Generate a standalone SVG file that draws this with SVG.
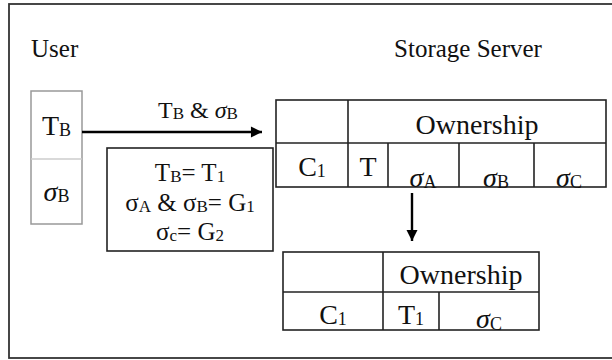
<svg xmlns="http://www.w3.org/2000/svg" width="612" height="360" viewBox="0 0 612 360">
  <style>
    text { font-family: "Liberation Serif", "Times New Roman", serif; fill: #111; }
    .title { font-size: 25px; }
    .cell { font-size: 28px; text-anchor: middle; }
    .info { font-size: 25px; text-anchor: middle; }
    .lbl { font-size: 24px; text-anchor: middle; }
    .sub { font-size: 18px; }
    .isub { font-size: 17px; }
    .it { font-style: italic; }
    .grid { fill: none; stroke: #222; stroke-width: 1.6; }
    .frame { fill: #fff; stroke: #333; stroke-width: 1.8; }
    .wire { stroke: #000; stroke-width: 2.4; fill: none; }
  </style>
  <defs>
    <marker id="head" viewBox="0 0 10 10" refX="10" refY="5" markerWidth="5.5" markerHeight="4.6" markerUnits="strokeWidth" orient="auto">
      <path d="M0,0 L10,5 L0,10 Z" fill="#000"/>
    </marker>
  </defs>

  <!-- outer frame -->
  <rect class="frame" x="9" y="4" width="620" height="354"/>

  <!-- headings -->
  <g id="user-title">
    <text class="title" x="31" y="57">User</text>
  </g>
  <g id="server-title">
    <text class="title" x="468" y="57" text-anchor="middle">Storage Server</text>
  </g>

  <!-- user token column -->
  <g id="user-box">
    <rect x="31" y="91" width="51" height="133" fill="#fff" stroke="#999" stroke-width="1.5"/>
    <line x1="31" y1="159" x2="82" y2="159" stroke="#ccc" stroke-width="1.5"/>
    <text class="cell" x="56.5" y="135">T<tspan class="sub" dy="1">B</tspan></text>
    <text class="cell" x="56.5" y="201"><tspan class="it">σ</tspan><tspan class="sub" dy="1">B</tspan></text>
  </g>

  <!-- grouping rules -->
  <g id="rules-box">
    <rect x="107" y="148" width="166" height="103" fill="#fff" stroke="#222" stroke-width="1.6"/>
    <text class="info" x="190" y="181">T<tspan class="isub" dy="1">B</tspan><tspan dy="-1">= T</tspan><tspan class="isub" dy="1">1</tspan></text>
    <text class="info" x="190" y="211">σ<tspan class="isub" dy="1">A</tspan><tspan dy="-1"> &amp; σ</tspan><tspan class="isub" dy="1">B</tspan><tspan dy="-1">= G</tspan><tspan class="isub" dy="1">1</tspan></text>
    <text class="info" x="190" y="240">σ<tspan class="isub" dy="1">c</tspan><tspan dy="-1">= G</tspan><tspan class="isub" dy="1">2</tspan></text>
  </g>

  <!-- ownership table before deduplication -->
  <g id="table-full">
    <rect class="grid" x="276" y="100" width="330" height="87"/>
    <line class="grid" x1="276" y1="143" x2="606" y2="143"/>
    <line class="grid" x1="348" y1="100" x2="348" y2="187"/>
    <line class="grid" x1="388" y1="143" x2="388" y2="187"/>
    <line class="grid" x1="459" y1="143" x2="459" y2="187"/>
    <line class="grid" x1="534" y1="143" x2="534" y2="187"/>
    <text class="cell" x="477" y="134">Ownership</text>
    <text class="cell" x="312" y="176">C<tspan class="sub" dy="1">1</tspan></text>
    <text class="cell" x="368" y="176">T</text>
    <text class="cell" x="423" y="187"><tspan class="it">σ</tspan><tspan class="sub" dy="1">A</tspan></text>
    <text class="cell" x="496" y="187"><tspan class="it">σ</tspan><tspan class="sub" dy="1">B</tspan></text>
    <text class="cell" x="569" y="187"><tspan class="it">σ</tspan><tspan class="sub" dy="1">C</tspan></text>
  </g>

  <!-- ownership table after deduplication -->
  <g id="table-reduced">
    <rect class="grid" x="283" y="252" width="256" height="78"/>
    <line class="grid" x1="283" y1="292" x2="539" y2="292"/>
    <line class="grid" x1="383" y1="252" x2="383" y2="330"/>
    <line class="grid" x1="439" y1="292" x2="439" y2="330"/>
    <text class="cell" x="461" y="284">Ownership</text>
    <text class="cell" x="333" y="324">C<tspan class="sub" dy="1">1</tspan></text>
    <text class="cell" x="411" y="324">T<tspan class="sub" dy="1">1</tspan></text>
    <text class="cell" x="489" y="328"><tspan class="it">σ</tspan><tspan class="sub" dy="2">C</tspan></text>
  </g>

  <!-- connectors -->
  <g id="connectors">
    <line class="wire" x1="82" y1="132" x2="262" y2="132" marker-end="url(#head)"/>
    <text class="lbl" x="198" y="118">T<tspan class="isub" dy="1">B</tspan><tspan dy="-1"> &amp; </tspan><tspan class="it">σ</tspan><tspan class="isub" dy="1">B</tspan></text>
    <line class="wire" x1="412" y1="193" x2="412" y2="241" marker-end="url(#head)"/>
  </g>
</svg>
